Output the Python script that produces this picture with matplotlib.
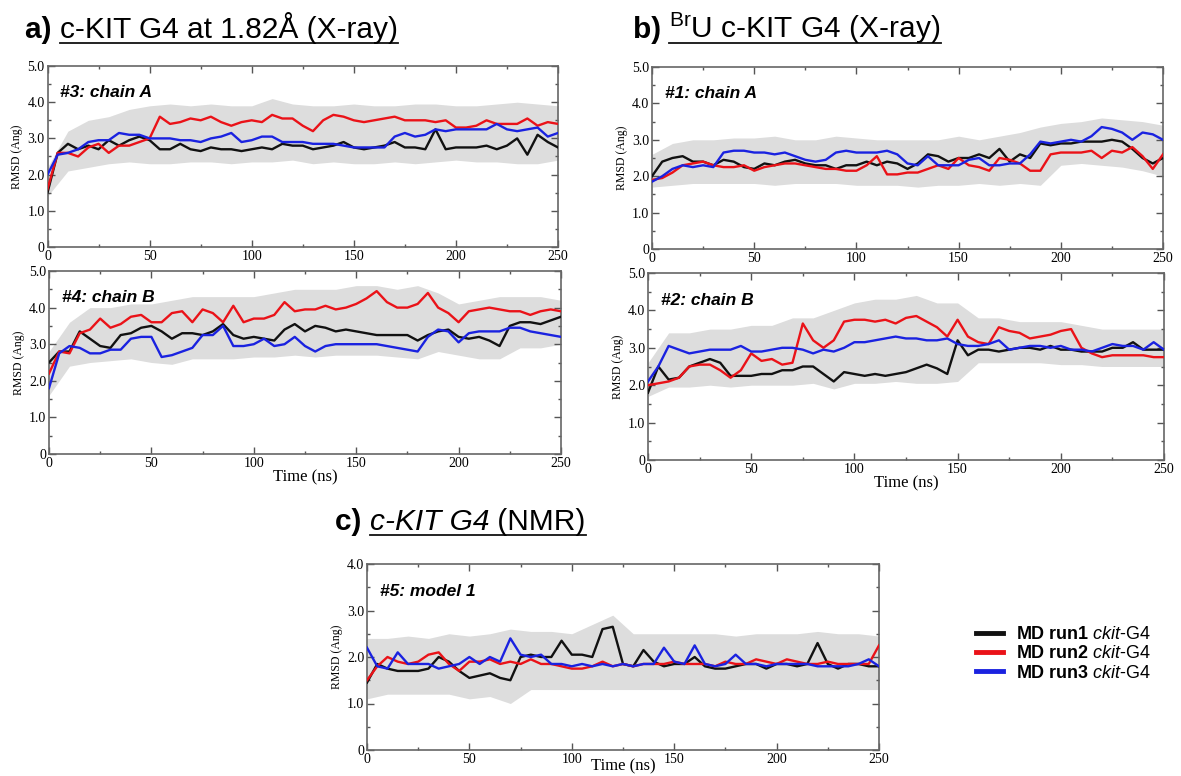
import numpy as np
import matplotlib
matplotlib.use("Agg")
import matplotlib.pyplot as plt
from matplotlib.ticker import MultipleLocator, FuncFormatter
from matplotlib.lines import Line2D

plt.rcParams['font.family'] = ['Liberation Serif', 'DejaVu Serif']
plt.rcParams['mathtext.fontset'] = 'custom'
plt.rcParams['mathtext.rm'] = 'Liberation Sans'
plt.rcParams['mathtext.it'] = 'Liberation Sans:italic'
plt.rcParams['mathtext.bf'] = 'Liberation Sans:bold'

# sampling of the running-average curves (ns) and of the raw-data envelope
time_ns = np.arange(0, 251, 5)
band_ns = np.arange(0, 251, 10)

# ---- a) c-KIT G4 1.82A, #3 chain A
a3_black = [1.5, 2.6, 2.85, 2.7, 2.8, 2.7, 2.95, 2.8, 2.95, 3.05,
            2.95, 2.7, 2.7, 2.85, 2.7, 2.65, 2.75, 2.7, 2.7, 2.65,
            2.7, 2.75, 2.7, 2.85, 2.8, 2.8, 2.7, 2.75, 2.8, 2.9,
            2.75, 2.7, 2.75, 2.8, 2.9, 2.75, 2.75, 2.7, 3.25, 2.7,
            2.75, 2.75, 2.75, 2.8, 2.7, 2.8, 3.0, 2.55, 3.1, 2.9,
            2.75]
a3_red = [1.6, 2.6, 2.6, 2.5, 2.75, 2.85, 2.6, 2.8, 2.8, 2.9,
          3.0, 3.6, 3.4, 3.45, 3.55, 3.5, 3.6, 3.45, 3.35, 3.45,
          3.5, 3.45, 3.65, 3.55, 3.55, 3.35, 3.2, 3.5, 3.65, 3.6,
          3.5, 3.45, 3.5, 3.55, 3.6, 3.5, 3.5, 3.5, 3.45, 3.5,
          3.3, 3.3, 3.35, 3.5, 3.4, 3.4, 3.4, 3.55, 3.35, 3.45,
          3.4]
a3_blue = [2.0, 2.55, 2.6, 2.7, 2.9, 2.95, 2.95, 3.15, 3.1, 3.1,
           3.0, 3.0, 3.0, 2.95, 2.95, 2.9, 3.0, 3.05, 3.15, 2.9,
           2.95, 3.05, 3.05, 2.9, 2.9, 2.9, 2.85, 2.85, 2.85, 2.8,
           2.75, 2.75, 2.75, 2.75, 3.05, 3.15, 3.05, 3.1, 3.25, 3.2,
           3.25, 3.25, 3.25, 3.25, 3.4, 3.25, 3.2, 3.25, 3.3, 3.05,
           3.15]
a3_lo = [1.4, 2.1, 2.2, 2.3, 2.35, 2.3, 2.3, 2.35, 2.35, 2.3, 2.35, 2.35, 2.4,
         2.3, 2.35, 2.3, 2.3, 2.35, 2.3, 2.35, 2.4, 2.35, 2.35, 2.3, 2.3, 2.4]
a3_hi = [2.2, 3.2, 3.5, 3.6, 3.8, 3.9, 3.95, 3.9, 3.95, 3.9, 3.9, 4.1, 3.95,
         3.9, 3.9, 3.95, 3.9, 3.9, 3.95, 3.95, 3.9, 3.9, 3.95, 4.0, 3.95, 3.9]

# ---- a) #4 chain B
a4_black = [2.5, 2.8, 2.8, 3.35, 3.15, 2.95, 2.9, 3.25, 3.3, 3.45,
            3.5, 3.35, 3.15, 3.3, 3.3, 3.25, 3.35, 3.55, 3.25, 3.15,
            3.2, 3.15, 3.1, 3.4, 3.55, 3.35, 3.5, 3.45, 3.35, 3.4,
            3.35, 3.3, 3.25, 3.25, 3.25, 3.25, 3.1, 3.25, 3.35, 3.4,
            3.2, 3.15, 3.2, 3.1, 2.95, 3.5, 3.6, 3.6, 3.55, 3.65,
            3.75]
a4_red = [2.2, 2.8, 2.75, 3.3, 3.4, 3.7, 3.45, 3.55, 3.75, 3.8,
          3.6, 3.6, 3.85, 3.9, 3.6, 3.95, 3.85, 3.6, 4.05, 3.6,
          3.7, 3.7, 3.8, 4.15, 3.9, 3.95, 3.95, 4.05, 3.95, 4.0,
          4.1, 4.25, 4.45, 4.15, 4.0, 4.0, 4.1, 4.4, 4.0, 3.85,
          3.6, 3.9, 3.95, 4.0, 3.95, 3.9, 3.9, 3.8, 3.9, 3.95,
          3.9]
a4_blue = [1.8, 2.75, 2.95, 2.9, 2.75, 2.75, 2.85, 2.85, 3.15, 3.2,
           3.2, 2.65, 2.7, 2.8, 2.9, 3.25, 3.25, 3.5, 2.95, 2.95,
           3.0, 3.15, 2.95, 3.0, 3.2, 2.95, 2.8, 2.95, 3.0, 3.0,
           3.0, 3.0, 3.0, 2.95, 2.9, 2.85, 2.8, 3.2, 3.4, 3.35,
           3.05, 3.3, 3.35, 3.35, 3.35, 3.45, 3.45, 3.35, 3.3, 3.25,
           3.2]
a4_lo = [1.6, 2.4, 2.5, 2.55, 2.6, 2.5, 2.45, 2.6, 2.6, 2.6, 2.65, 2.65, 2.7,
         2.65, 2.7, 2.7, 2.7, 2.65, 2.6, 2.8, 2.7, 2.6, 2.6, 2.9, 2.9, 3.0]
a4_hi = [2.8, 3.6, 4.0, 4.0, 4.1, 4.1, 4.2, 4.3, 4.3, 4.3, 4.3, 4.4, 4.5,
         4.5, 4.5, 4.6, 4.6, 4.5, 4.6, 4.4, 4.1, 4.2, 4.3, 4.3, 4.3, 4.2]

# ---- b) BrU c-KIT G4, #1 chain A
b1_black = [2.0, 2.4, 2.5, 2.55, 2.4, 2.4, 2.3, 2.45, 2.4, 2.25,
            2.2, 2.35, 2.3, 2.4, 2.45, 2.35, 2.3, 2.3, 2.2, 2.3,
            2.3, 2.4, 2.3, 2.4, 2.35, 2.2, 2.35, 2.6, 2.55, 2.4,
            2.5, 2.5, 2.6, 2.5, 2.75, 2.4, 2.6, 2.5, 2.9, 2.85,
            2.9, 2.9, 2.95, 2.95, 2.95, 3.0, 2.95, 2.75, 2.5, 2.35,
            2.5]
b1_red = [1.9, 1.95, 2.1, 2.3, 2.35, 2.4, 2.3, 2.25, 2.25, 2.3,
          2.15, 2.25, 2.3, 2.35, 2.35, 2.3, 2.25, 2.2, 2.2, 2.15,
          2.15, 2.3, 2.55, 2.05, 2.05, 2.1, 2.1, 2.2, 2.3, 2.2,
          2.5, 2.3, 2.25, 2.15, 2.5, 2.45, 2.35, 2.15, 2.15, 2.6,
          2.65, 2.65, 2.65, 2.7, 2.5, 2.7, 2.65, 2.8, 2.55, 2.2,
          2.6]
b1_blue = [1.85, 2.0, 2.2, 2.3, 2.25, 2.3, 2.25, 2.65, 2.7, 2.7,
           2.65, 2.65, 2.6, 2.65, 2.55, 2.45, 2.4, 2.45, 2.65, 2.7,
           2.65, 2.65, 2.65, 2.7, 2.6, 2.35, 2.3, 2.55, 2.3, 2.3,
           2.3, 2.45, 2.5, 2.3, 2.3, 2.35, 2.35, 2.6, 2.95, 2.9,
           2.95, 3.0, 2.95, 3.1, 3.35, 3.3, 3.2, 3.0, 3.2, 3.15,
           3.0]
b1_lo = [1.7, 1.75, 1.8, 1.8, 1.8, 1.8, 1.75, 1.8, 1.8, 1.8, 1.75, 1.75, 1.75,
         1.7, 1.75, 1.75, 1.8, 1.75, 1.8, 1.75, 2.3, 2.35, 2.3, 2.25, 2.15, 2.0]
b1_hi = [2.6, 2.9, 3.0, 3.0, 3.05, 3.05, 3.1, 3.0, 3.0, 3.1, 3.05, 3.0, 3.0,
         3.0, 3.0, 3.1, 3.0, 3.1, 3.2, 3.35, 3.45, 3.5, 3.6, 3.55, 3.5, 3.4]

# ---- b) #2 chain B
b2_black = [1.8, 2.5, 2.15, 2.2, 2.5, 2.6, 2.7, 2.6, 2.25, 2.25,
            2.25, 2.3, 2.3, 2.4, 2.4, 2.5, 2.5, 2.3, 2.1, 2.35,
            2.3, 2.25, 2.3, 2.25, 2.3, 2.35, 2.45, 2.55, 2.45, 2.3,
            3.2, 2.8, 2.95, 2.95, 2.9, 2.95, 3.0, 3.0, 2.95, 3.05,
            2.95, 2.95, 2.9, 2.9, 2.9, 3.0, 3.0, 3.15, 2.95, 2.95,
            2.95]
b2_red = [2.0, 2.05, 2.1, 2.2, 2.5, 2.55, 2.55, 2.4, 2.2, 2.4,
          2.85, 2.65, 2.7, 2.55, 2.6, 3.65, 3.2, 3.0, 3.2, 3.7,
          3.75, 3.75, 3.7, 3.75, 3.65, 3.8, 3.85, 3.7, 3.55, 3.3,
          3.75, 3.3, 3.15, 3.1, 3.55, 3.45, 3.4, 3.25, 3.3, 3.35,
          3.45, 3.5, 3.0, 2.85, 2.75, 2.8, 2.8, 2.8, 2.8, 2.75,
          2.75]
b2_blue = [2.1, 2.5, 3.05, 2.95, 2.85, 2.9, 2.95, 2.95, 2.95, 3.05,
           2.9, 2.9, 2.95, 3.0, 3.0, 2.95, 2.85, 2.95, 2.9, 3.0,
           3.15, 3.15, 3.2, 3.25, 3.3, 3.25, 3.25, 3.2, 3.2, 3.25,
           3.1, 3.05, 3.05, 3.1, 3.2, 2.95, 3.0, 3.05, 3.05, 3.0,
           3.05, 2.95, 2.95, 2.9, 3.0, 3.1, 3.05, 3.05, 2.95, 3.15,
           2.95]
b2_lo = [1.7, 1.95, 1.95, 2.0, 1.95, 2.0, 2.0, 2.0, 2.05, 1.9, 2.05, 2.05, 2.1,
         2.05, 2.05, 2.1, 2.6, 2.6, 2.6, 2.6, 2.55, 2.55, 2.5, 2.5, 2.5, 2.5]
b2_hi = [2.6, 3.4, 3.4, 3.5, 3.5, 3.6, 3.6, 3.8, 3.8, 4.0, 4.2, 4.3, 4.3,
         4.4, 4.2, 4.2, 3.8, 3.8, 3.7, 3.7, 3.7, 3.6, 3.5, 3.5, 3.5, 3.5]

# ---- c) c-KIT G4 NMR, #5 model 1
c5_black = [1.45, 1.85, 1.75, 1.7, 1.7, 1.7, 1.75, 2.0, 1.9, 1.7,
            1.55, 1.6, 1.65, 1.55, 1.5, 2.0, 2.05, 2.0, 2.0, 2.35,
            2.05, 2.05, 2.0, 2.6, 2.65, 1.85, 1.8, 2.15, 1.9, 1.8,
            1.85, 1.85, 2.0, 1.8, 1.75, 1.75, 1.8, 1.85, 1.85, 1.75,
            1.85, 1.85, 1.8, 1.85, 2.3, 1.85, 1.75, 1.85, 1.85, 1.8,
            1.8]
c5_red = [1.5, 1.8, 2.0, 1.9, 1.85, 1.9, 2.05, 2.1, 1.85, 1.7,
          1.9, 1.9, 1.95, 1.85, 1.9, 1.85, 1.95, 1.85, 1.85, 1.8,
          1.75, 1.75, 1.8, 1.9, 1.8, 1.85, 1.8, 1.85, 1.85, 1.85,
          1.9, 1.85, 1.85, 1.85, 1.8, 1.9, 1.85, 1.85, 1.95, 1.9,
          1.85, 1.95, 1.9, 1.85, 1.85, 1.9, 1.85, 1.85, 1.85, 1.85,
          2.25]
c5_blue = [2.2, 1.8, 1.75, 2.1, 1.85, 1.85, 1.85, 1.75, 1.8, 1.85,
           2.0, 1.85, 2.0, 1.9, 2.4, 2.05, 2.0, 2.05, 1.85, 1.85,
           1.8, 1.85, 1.8, 1.85, 1.8, 1.85, 1.8, 1.85, 1.85, 2.2,
           1.9, 1.85, 2.25, 1.85, 1.8, 1.85, 2.05, 1.85, 1.85, 1.8,
           1.85, 1.85, 1.85, 1.85, 1.8, 1.8, 1.8, 1.8, 1.85, 1.95,
           1.8]
c5_lo = [1.1, 1.2, 1.2, 1.2, 1.2, 1.1, 1.15, 1.0, 1.3, 1.3, 1.3, 1.3, 1.3,
         1.3, 1.3, 1.3, 1.3, 1.3, 1.3, 1.3, 1.3, 1.3, 1.3, 1.3, 1.3, 1.3]
c5_hi = [2.4, 2.4, 2.45, 2.4, 2.5, 2.45, 2.5, 2.6, 2.55, 2.55, 2.5, 2.7, 2.9,
         2.5, 2.5, 2.5, 2.5, 2.5, 2.45, 2.5, 2.5, 2.5, 2.55, 2.5, 2.5, 2.45]

run_labels = [r"$\mathbf{MD\ run1}$ $\mathit{ckit}$-G4",
              r"$\mathbf{MD\ run2}$ $\mathit{ckit}$-G4",
              r"$\mathbf{MD\ run3}$ $\mathit{ckit}$-G4"]
run_colors = ['#111111', '#ea1218', '#1a22e0']
band_color = '#dddddd'

W, H = 1181, 776
fig = plt.figure(figsize=(W / 100, H / 100), dpi=100)


def px_rect(left, right, top, bottom):
    return [left / W, 1 - bottom / H, (right - left) / W, (bottom - top) / H]


def rmsd_panel(rect, series, lo, hi, tag, ymax, xlabel_pad=None):
    ax = fig.add_axes(px_rect(*rect))
    ax.fill_between(band_ns, lo, hi, color=band_color, lw=0, zorder=1)
    for vals, col in zip(series, run_colors):
        ax.plot(time_ns, vals, color=col, lw=1.7, zorder=3)
    ax.set_xlim(0, 250)
    ax.set_ylim(0, ymax)
    ax.xaxis.set_major_locator(MultipleLocator(50))
    ax.xaxis.set_minor_locator(MultipleLocator(25))
    ax.yaxis.set_major_locator(MultipleLocator(1))
    ax.yaxis.set_minor_locator(MultipleLocator(0.5))
    ax.yaxis.set_major_formatter(FuncFormatter(lambda v, p: '0' if v == 0 else f'{v:.1f}'))
    ax.tick_params(which='both', direction='in', top=True, right=True,
                   labelsize=10, pad=2, color='#555555')
    ax.tick_params(which='major', length=5, width=1)
    ax.tick_params(which='minor', length=2.5, width=1)
    for s in ax.spines.values():
        s.set_color('#666666')
        s.set_linewidth(1.2)
    ax.set_ylabel('RMSD (Ang)', fontsize=8.5, labelpad=3)
    if xlabel_pad is not None:
        ax.set_xlabel('Time (ns)', fontsize=12, labelpad=xlabel_pad)
    ax.text(0.025, 0.83, tag, transform=ax.transAxes, fontsize=12.5,
            family='Liberation Sans', weight='bold', style='italic', zorder=5)
    return ax


rmsd_panel((47.5, 558, 66, 247), [a3_black, a3_red, a3_blue], a3_lo, a3_hi,
           '#3: chain A', 5)
rmsd_panel((49, 561, 271, 454), [a4_black, a4_red, a4_blue], a4_lo, a4_hi,
           '#4: chain B', 5, 0)
rmsd_panel((652, 1163, 67, 249), [b1_black, b1_red, b1_blue], b1_lo, b1_hi,
           '#1: chain A', 5)
rmsd_panel((648, 1164, 273, 460), [b2_black, b2_red, b2_blue], b2_lo, b2_hi,
           '#2: chain B', 5, 0)
rmsd_panel((367, 879, 564, 750), [c5_black, c5_red, c5_blue], c5_lo, c5_hi,
           '#5: model 1', 4, -5)


# titles: pieces placed one after the other, underlined after the letter
def title(x_px, base_px, pieces, size=21.5):
    renderer = fig.canvas.get_renderer()
    x = x_px / W
    y = 1 - base_px / H
    starts, ends = [], []
    for txt, kw in pieces:
        t = fig.text(x, y, txt, fontsize=size, family='Liberation Sans',
                     ha='left', va='baseline', **kw)
        bb = t.get_window_extent(renderer)
        starts.append(bb.x0 / W)
        ends.append(bb.x1 / W)
        x = bb.x1 / W
    yl = y - 5 / H
    fig.add_artist(Line2D([starts[1], ends[-1]], [yl, yl], color='#111111', lw=1.3))


title(25, 38, [("a) ", dict(weight='bold')), ("c-KIT G4 at 1.82Å (X-ray)", {})])
title(633, 38, [("b) ", dict(weight='bold')), (r"$^{\rm Br}$U c-KIT G4 (X-ray)", {})])
title(335, 530, [("c) ", dict(weight='bold')), ("c-KIT G4", dict(style='italic')),
                 (" (NMR)", {})])

handles = [Line2D([], [], color=c, lw=3.5) for c in run_colors]
fig.legend(handles, run_labels, loc='upper left', bbox_to_anchor=(960 / W, 1 - 610 / H),
           frameon=False, prop={'family': 'Liberation Sans', 'size': 13},
           handlelength=1.5, handletextpad=0.7, labelspacing=0.12)

fig.savefig('out.png', dpi=100)
